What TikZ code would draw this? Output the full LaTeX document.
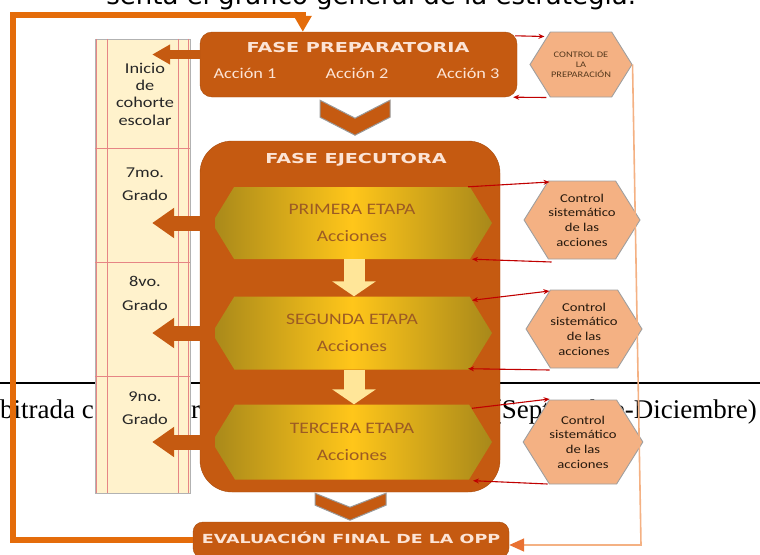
\documentclass[tikz,border=0pt]{standalone}
\usepackage{fontspec}
\usetikzlibrary{shapes.symbols,arrows.meta,calc}
\newfontfamily\calib{Carlito}[FakeStretch=1.22]
\newfontfamily\capsfont{DejaVu Sans}[FakeStretch=1.4]
\newfontfamily\pagesans{DejaVu Sans}
\newfontfamily\pageserif{Liberation Serif}
\definecolor{boxorange}{HTML}{C55A11}
\definecolor{titlecream}{HTML}{FCE4D6}
\definecolor{colcream}{HTML}{FFF2CC}
\definecolor{gridred}{HTML}{E06666}
\definecolor{hexfill}{HTML}{F4B183}
\definecolor{ctrlred}{HTML}{C00000}
\definecolor{backorange}{HTML}{E46C0A}
\definecolor{goldedge}{HTML}{A8881A}
\definecolor{goldmid}{HTML}{FFC61A}
\definecolor{stagetext}{HTML}{9C5B24}
\definecolor{passyellow}{HTML}{FFE699}
\definecolor{retline}{HTML}{F4B183}
\definecolor{tiporange}{HTML}{E97132}

\begin{document}
\begin{tikzpicture}[x=1pt,y=-1pt]
    \tikzstyle{phase}=[draw=boxorange!85!black, fill=boxorange, inner sep=0pt]
    \tikzstyle{phase title}=[text=titlecream, font=\capsfont\bfseries\fontsize{13.7}{16}\selectfont]
    \tikzstyle{action}=[text=titlecream, font=\calib\fontsize{15}{17}\selectfont]
    \tikzstyle{cohort}=[draw=gray!60, fill=colcream, minimum width=95pt, minimum height=454pt, inner sep=0pt]
    \tikzstyle{gridline}=[draw=gridred!80, line width=1pt]
    \tikzstyle{grade}=[align=center, text=black!85, font=\calib\fontsize{15}{17.3}\selectfont]
    \tikzstyle{stage}=[signal, signal to=west and east, signal pointer angle=117, minimum width=280pt,
        left color=goldedge, right color=goldedge, middle color=goldmid, align=center, inner sep=0pt,
        text=stagetext, font=\calib\fontsize{16}{19}\selectfont]
    \tikzstyle{control}=[signal, signal to=west and east, signal pointer angle=116, minimum width=110pt,
        draw=gray!75, fill=hexfill, line width=0.9pt, align=center, inner sep=0pt,
        text=black!80!brown, font=\calib\fontsize{12}{14.7}\selectfont]
    \tikzstyle{chevron}=[draw=gray!80, fill=boxorange, line width=1pt]
    \tikzstyle{grade arrow}=[draw=boxorange, line width=15pt, -{Triangle[width=29pt,length=22pt]}]
    \tikzstyle{pass arrow}=[draw=passyellow, line width=21pt, -{Triangle[width=43pt,length=15pt]}]
    \tikzstyle{ctrl}=[draw=ctrlred, line width=1.1pt, -{Stealth[length=6pt,width=5pt]}]
    \tikzstyle{feedback}=[draw=backorange, line width=5.5pt, -{Triangle[width=17pt,length=16pt]}]
    \tikzstyle{return}=[draw=retline, line width=1.6pt, -{Triangle[width=13pt,length=15pt,color=tiporange]}]

    \useasboundingbox (0,0) rectangle (760,554);

    % page text behind the figure
    \node[anchor=base east, font=\pagesans\fontsize{26}{30}\selectfont] (pagetop) at (640,5)
        {senta el gráfico general de la estrategia:};
    \draw[line width=1.5pt] (0,383) -- (760,383);
    \node[anchor=base west, font=\pageserif\fontsize{27}{30}\selectfont, inner sep=0pt] (pl) at (0,418) {bitrada c};
    \node[anchor=base west, font=\pageserif\fontsize{27}{30}\selectfont, inner sep=0pt] (pm) at (191,418) {r};
    \node[anchor=base east, font=\pageserif\fontsize{27}{30}\selectfont, inner sep=0pt] (pr) at (757,418) {(Septiembre-Diciembre)};

    % cohort column
    \node[cohort] (col) at (142.5,266) {};
    \foreach \dx in {2,13,84,94}
        \draw[gridline] ([xshift=\dx pt]col.north west) -- ([xshift=\dx pt]col.south west);
    \foreach \y in {148,262,376}
        \draw[gridline] (col.west |- 0,\y) -- (col.east |- 0,\y);
    \node[grade] (G0) at (145,94) {Inicio\\de\\cohorte\\escolar};
    \foreach \name/\y/\txt in {1/184/7mo.,2/293.5/8vo.,3/408.5/9no.}
        \node[grade] (G\name) at (145,\y) {\txt\\[6pt]Grado};

    % phases
    \node[phase, rounded corners=12pt, minimum width=317pt, minimum height=65pt] (prep) at (358.5,64.5) {};
    \node[phase title] (prepT) at (358,48) {FASE PREPARATORIA};
    \foreach \name/\x in {1/245,2/357,3/468}
        \node[action] (A\name) at (\x,73) {Acción \name};

    \node[phase, rounded corners=32pt, minimum width=300pt, minimum height=351pt] (exec) at (350,316.5) {};
    \node[phase title] (execT) at (356,160) {FASE EJECUTORA};

    \node[phase, rounded corners=10pt, minimum width=316pt, minimum height=36pt] (eval) at (351,540) {};
    \node[phase title, font=\capsfont\bfseries\fontsize{12.5}{15}\selectfont] (evalT) at (351,538) {EVALUACIÓN FINAL DE LA OPP};

    \draw[chevron] ($(prep.south)+(-38.5,3)$) -- ++(35,18) -- ++(35,-18) -- ++(0,17) -- ++(-35,18) -- ++(-35,-18) -- cycle;
    \draw[chevron] ($(exec.south)+(-35,1)$) -- ++(35,14) -- ++(36,-14) -- ++(0,12) -- ++(-36,15) -- ++(-35,-15) -- cycle;

    % stages
    \foreach \name/\y/\h/\txt in {1/223/72/PRIMERA,2/333/73/SEGUNDA,3/442/75/TERCERA}
        \node[stage, minimum height=\h pt] (S\name) at (352,\y) {\txt\ ETAPA\\[8pt]Acciones};

    \draw[pass arrow] ([xshift=2pt]S1.south) -- ([xshift=2pt]S2.north);
    \draw[pass arrow] ([xshift=2pt]S2.south) -- ([xshift=2pt]S3.north);

    \coordinate (P0) at ($(prep.west)+(0,-10)$);
    \draw[grade arrow, line width=9pt, -{Triangle[width=19pt,length=18pt]}] (P0) -- ([xshift=-38pt]col.east |- P0);
    \foreach \name in {1,2,3}
        \draw[grade arrow] ([xshift=3pt]S\name.west) -- ([xshift=-38pt]col.east |- S\name.west);

    % controls
    \node[control, minimum width=102pt, minimum height=65pt, text=black!55!brown,
        font=\calib\fontsize{8.5}{10}\selectfont] (C0) at (581,64.5) {CONTROL DE\\LA\\PREPARACIÓN};
    \foreach \name/\x/\y/\h in {1/582/220/78,2/584/329/78,3/583/442/84}
        \node[control, minimum height=\h pt] (H\name) at (\x,\y) {Control\\sistemático\\de las\\acciones};

    \draw[ctrl] ($(prep.north east)+(-2,4)$) -- ($(C0.west)+(15,-28)$);
    \draw[ctrl] ($(C0.west)+(17,33)$) -- ($(prep.south east)+(-4,0)$);
    \draw[ctrl] ($(S1.north)+(116,0)$) -- ($(H1.west)+(26,-38)$);
    \draw[ctrl] ($(H1.west)+(28,42)$) -- ($(S1.south)+(120,0)$);
    \draw[ctrl, <->, {Stealth[length=6pt,width=5pt]}-{Stealth[length=6pt,width=5pt]}] ($(S2.north)+(120,4)$) -- ($(H2.west)+(24,-38)$);
    \draw[ctrl] ($(H2.west)+(24,41)$) -- ($(S2.south)+(116,-1)$);
    \draw[ctrl] ($(S3.north)+(120,4)$) -- ($(H3.west)+(27,-43)$);
    \draw[ctrl] ($(H3.west)+(25,42)$) -- ($(S3.south)+(121,1)$);

    % loops back
    \coordinate (fbtop) at (13,15);
    \draw[feedback] (eval.west) -| (fbtop) -| ([xshift=103pt]prep.north west);
    \coordinate (retc) at (641,545);
    \draw[return] (C0.east) -- (retc) -- (retc -| eval.east);
\end{tikzpicture}
\end{document}
